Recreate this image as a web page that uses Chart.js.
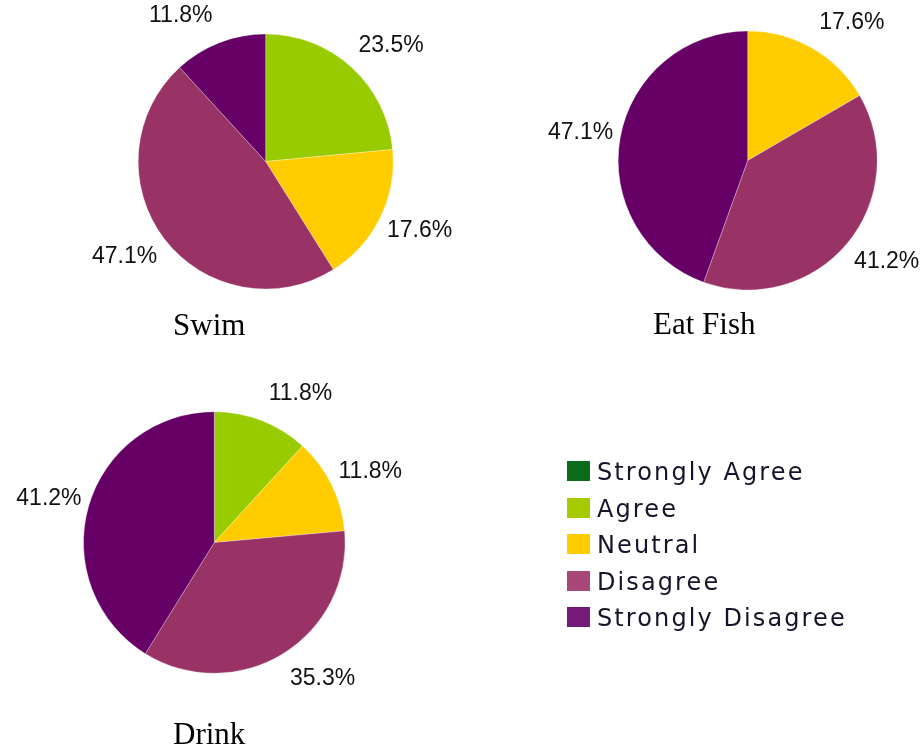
<!DOCTYPE html>
<html>
<head>
<meta charset="utf-8">
<script src="https://cdn.jsdelivr.net/npm/chart.js@4"></script>
<style>
    html, body { margin: 0; padding: 0; background: #fff; }
    #page { position: relative; width: 921px; height: 749px; overflow: hidden; }
    #page canvas { position: absolute; left: 0; top: 0; }
    #legend { position: absolute; left: 567px; top: 461px; }
    .row { position: absolute; left: 0; height: 20px; white-space: nowrap; }
    .swatch { position: absolute; left: 0; top: 0; width: 23px; height: 20px; }
    .name {
        position: absolute; left: 30px; top: -3px; line-height: 20px;
        font: 24px "DejaVu Sans", sans-serif; letter-spacing: 2.1px; color: #15152a;
    }
</style>
</head>
<body>
<div id="page">
    <canvas id="swimChart" width="921" height="749"></canvas>
    <canvas id="fishChart" width="921" height="749"></canvas>
    <canvas id="drinkChart" width="921" height="749"></canvas>
    <div id="legend"></div>
</div>
<script>
const categories = ['Strongly Agree', 'Agree', 'Neutral', 'Disagree', 'Strongly Disagree'];
const swimValues = [0, 23.5, 17.6, 47.1, 11.8];
const eatFishValues = [0, 0, 17.6, 41.2, 47.1];
const drinkValues = [0, 11.8, 11.8, 35.3, 41.2];
const sliceColors = ['#006600', '#99cc00', '#ffcc00', '#993366', '#660066'];
const swatchColors = ['#0b6b1d', '#a6cc00', '#ffcc00', '#a84878', '#751a78'];

// percent labels sit just outside each slice, pushed sideways by a fixed gap
const outsideLabels = {
    id: 'outsideLabels',
    afterDatasetsDraw(chart, args, opts) {
        const ctx = chart.ctx;
        const meta = chart.getDatasetMeta(0);
        const values = chart.data.datasets[0].data;
        ctx.save();
        ctx.fillStyle = '#111';
        ctx.font = '23px "Liberation Sans", Arial, sans-serif';
        ctx.textBaseline = 'middle';
        meta.data.forEach((arc, i) => {
            if (!values[i]) return;
            const {x, y, startAngle, endAngle, outerRadius} = arc.getProps(['x', 'y', 'startAngle', 'endAngle', 'outerRadius'], true);
            const mid = (startAngle + endAngle) / 2;
            const c = Math.cos(mid), s = Math.sin(mid);
            const right = c >= 0;
            ctx.textAlign = right ? 'left' : 'right';
            const lx = x + c * outerRadius + (right ? 7 : -7);
            const ly = y + s * (outerRadius + 29);
            ctx.fillText(values[i].toFixed(1) + '%', lx, ly);
        });
        // chart name under the pie
        ctx.font = '31px "Liberation Serif", "Times New Roman", serif';
        ctx.textAlign = 'left';
        ctx.textBaseline = 'alphabetic';
        ctx.fillStyle = '#000';
        ctx.fillText(opts.name, opts.nameX, opts.nameY);
        ctx.restore();
    }
};

function makePie(canvasId, values, cx, cy, r, name, nameX, nameY) {
    return new Chart(document.getElementById(canvasId), {
        type: 'pie',
        data: {
            labels: categories,
            datasets: [{
                data: values,
                backgroundColor: sliceColors,
                borderWidth: 0.5,
                borderColor: 'rgba(255,255,255,0.6)',
                hoverOffset: 0,
                radius: r
            }]
        },
        options: {
            responsive: false,
            animation: false,
            devicePixelRatio: 1,
            layout: {
                padding: {left: cx - r, top: cy - r, right: 921 - cx - r, bottom: 749 - cy - r}
            },
            plugins: {
                legend: {display: false},
                tooltip: {enabled: false},
                outsideLabels: {name: name, nameX: nameX, nameY: nameY}
            }
        },
        plugins: [outsideLabels]
    });
}

makePie('swimChart', swimValues, 265.7, 161.5, 127.5, 'Swim', 173, 335);
makePie('fishChart', eatFishValues, 747.7, 160.5, 129.5, 'Eat Fish', 653, 334);
makePie('drinkChart', drinkValues, 214.3, 542.5, 130.8, 'Drink', 173, 744);

// legend rows
const legend = document.getElementById('legend');
categories.forEach((cat, i) => {
    const row = document.createElement('div');
    row.className = 'row';
    row.style.top = (i * 36.5) + 'px';
    row.innerHTML = '<span class="swatch" style="background:' + swatchColors[i] + '"></span>' +
        '<span class="name">' + cat + '</span>';
    legend.appendChild(row);
});
</script>
</body>
</html>
